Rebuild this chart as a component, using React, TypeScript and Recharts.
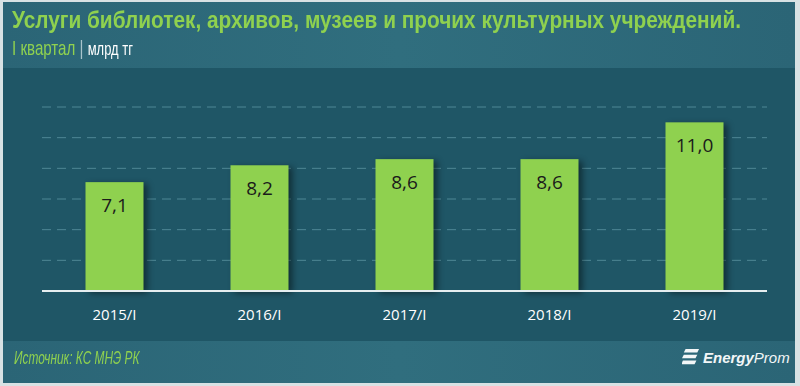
import React from 'react';
import { BarChart, Bar, XAxis, YAxis, CartesianGrid, LabelList } from 'recharts';

const periods = ['2015/I', '2016/I', '2017/I', '2018/I', '2019/I'];
const values = [7.1, 8.2, 8.6, 8.6, 11.0];
const yTicks = [0, 2, 4, 6, 8, 10, 12];

const data = periods.map((p, i) => ({ period: p, value: values[i] }));

const fmt = (v: any) => Number(v).toFixed(1).replace('.', ',');

const ShadowBar = (props: any) => {
  const { x, y, width, height, fill } = props;
  return (
    <rect
      x={x}
      y={y}
      width={width}
      height={height}
      fill={fill}
      style={{ filter: 'drop-shadow(4px 2px 3px rgba(0,0,0,0.45))' }}
    />
  );
};

const App = () => {
  return (
    <div
      style={{
        position: 'fixed',
        top: 0,
        left: 0,
        width: 800,
        height: 386,
        background: '#d8e2e4',
        fontFamily: '"Open Sans", sans-serif',
      }}
    >
      <div
        style={{
          position: 'absolute',
          left: 3,
          top: 2,
          width: 792,
          height: 381,
          background: '#1f5666',
        }}
      />
      <div
        style={{
          position: 'absolute',
          left: 3,
          top: 2,
          width: 792,
          height: 66,
          background: 'linear-gradient(90deg, #2b6576 0%, #306e7e 50%, #2b6576 100%)',
        }}
      />
      <div
        style={{
          position: 'absolute',
          left: 3,
          top: 341,
          width: 792,
          height: 42,
          background: 'linear-gradient(90deg, #2b6576 0%, #306e7e 50%, #2b6576 100%)',
        }}
      />
      <div
        style={{
          position: 'absolute',
          left: 12,
          top: 7,
          color: '#8fd14f',
          fontFamily: '"Liberation Sans", sans-serif',
          fontWeight: 'bold',
          fontSize: 23,
          whiteSpace: 'nowrap',
          transform: 'scaleX(0.905)',
          transformOrigin: 'left',
        }}
      >
        Услуги библиотек,  архивов, музеев и прочих культурных учреждений.
      </div>
      <div
        style={{
          position: 'absolute',
          left: 12,
          top: 36,
          fontFamily: '"Liberation Sans", sans-serif',
          fontSize: 21,
          whiteSpace: 'nowrap',
          transform: 'scaleX(0.72)',
          transformOrigin: 'left',
        }}
      >
        <span style={{ color: '#8fd14f' }}>I квартал</span>
        <span style={{ color: '#a9c4cc' }}> | </span>
        <span style={{ color: '#ffffff', fontSize: 18 }}>млрд тг</span>
      </div>
      <div style={{ position: 'absolute', left: 0, top: 0 }}>
        <BarChart
          width={800}
          height={386}
          data={data}
          margin={{ top: 107, right: 33, bottom: 65, left: 42 }}
          barCategoryGap="30%"
        >
          <CartesianGrid
            vertical={false}
            stroke="#4f8795"
            strokeDasharray="9 6"
            strokeWidth={1}
          />
          <XAxis
            dataKey="period"
            height={30}
            axisLine={{ stroke: '#e6eef0', strokeWidth: 2 }}
            tickLine={false}
            tick={{ fill: '#ffffff', fontSize: 15, fontFamily: '"Open Sans", sans-serif' }}
            tickMargin={12}
          />
          <YAxis hide domain={[0, 12]} ticks={yTicks} width={0} />
          <Bar dataKey="value" fill="#8fd14f" shape={ShadowBar} isAnimationActive={false}>
            <LabelList
              dataKey="value"
              position="insideTop"
              offset={16}
              formatter={fmt}
              style={{ fill: '#1b1b1b', fontSize: 19, fontFamily: '"Open Sans", sans-serif' }}
            />
          </Bar>
        </BarChart>
      </div>
      <div
        style={{
          position: 'absolute',
          left: 14,
          top: 348,
          color: '#8fd14f',
          fontFamily: '"Liberation Sans", sans-serif',
          fontStyle: 'italic',
          fontSize: 18,
          whiteSpace: 'nowrap',
          transform: 'scaleX(0.66)',
          transformOrigin: 'left',
        }}
      >
        Источник: КС МНЭ РК
      </div>
      <div
        style={{
          position: 'absolute',
          left: 682,
          top: 347,
          display: 'flex',
          alignItems: 'center',
          color: '#f2f6f7',
          fontFamily: '"Liberation Sans", sans-serif',
          fontStyle: 'italic',
          whiteSpace: 'nowrap',
        }}
      >
        <svg width={18} height={20} viewBox="0 0 20 20" style={{ marginRight: 3 }}>
          <path d="M4 1 H19 L17 5 H2 Z" fill="#f2f6f7" />
          <path d="M2 7.5 H17 L15 11.5 H0 Z" fill="#f2f6f7" />
          <path d="M1 14 H16 L14 18 H-1 Z" fill="#f2f6f7" />
        </svg>
        <span style={{ fontWeight: 'bold', fontSize: 15 }}>Energy</span>
        <span style={{ fontSize: 15 }}>Prom</span>
      </div>
    </div>
  );
};

export default App;
